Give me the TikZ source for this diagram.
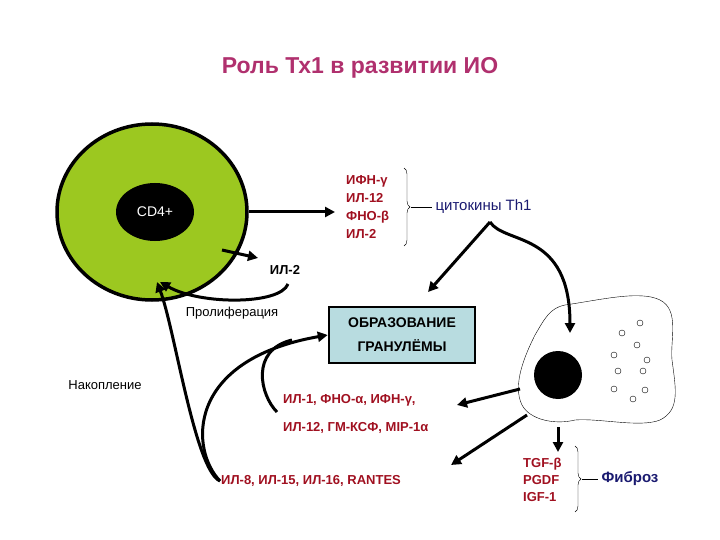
\documentclass[tikz,border=0pt]{standalone}
\usepackage{fontspec}
\setmainfont{Liberation Sans}
\usetikzlibrary{arrows.meta,decorations.pathreplacing,shapes.geometric}
\definecolor{tit}{HTML}{B0306E}
\definecolor{dred}{HTML}{A01020}
\definecolor{navy}{HTML}{1A1A70}
\definecolor{cellg}{HTML}{9CC820}
\definecolor{boxb}{HTML}{B8DCE0}
\tikzset{
  arr/.style={line width=3pt,-{Triangle[length=10pt,width=10pt]}},
  red/.style={text=dred,font=\bfseries\fontsize{13}{15}\selectfont,inner sep=1pt},
  lbl/.style={font=\bfseries\fontsize{13}{15}\selectfont,inner sep=1pt},
  brace/.style={decorate,decoration={brace,amplitude=6pt},thin},
  dot/.style={circle,draw,thin,minimum size=6pt,inner sep=0pt}
}
\begin{document}
\begin{tikzpicture}[x=1pt,y=-1pt]
\useasboundingbox (0,0) rectangle (720,540);
\node[text=tit,font=\bfseries\fontsize{23}{26}\selectfont] (title) at (360,68) {Роль Тх1 в развитии ИО};
% CD4 cell
\node[ellipse,draw,line width=3.5pt,fill=cellg,minimum width=190pt,minimum height=176pt] (cell) at (152,212) {};
\node[ellipse,fill=black,minimum width=78pt,minimum height=58pt,text=white,font=\fontsize{14}{16}\selectfont] (nuc) at (155,212) {CD4+};
% cytokine list
\node[red,align=left,anchor=west,font=\bfseries\fontsize{13}{18}\selectfont] (cyt) at (345,207) {ИФН-γ\\ИЛ-12\\ФНО-β\\ИЛ-2};
\draw[brace] (404,168) -- (404,246);
\node[text=navy,font=\fontsize{15}{17}\selectfont,anchor=west] (th1) at (432,207) {цитокины Th1};
\draw[thin] (411,207) -- (th1.west);
\coordinate (ce) at (335,212);
\draw[arr] (cell.east) -- (ce);
% IL-2
\node[lbl] (il2) at (285,270) {ИЛ-2};
\coordinate (c1) at (222,250);
\draw[arr] (c1) -- (258,258);
\draw[arr] (288,284) .. controls (280,305) and (200,305) .. (160,282);
\node[lbl,font=\fontsize{13}{15}\selectfont] (prol) at (232,313) {Пролиферация};
\node[lbl,font=\fontsize{13}{15}\selectfont] (nak) at (105,385) {Накопление};
% box
\node[draw,line width=2.5pt,fill=boxb,minimum width=146pt,minimum height=56pt,align=center,font=\bfseries\fontsize{14}{24}\selectfont] (box) at (402,335) {ОБРАЗОВАНИЕ\\ГРАНУЛЁМЫ};
% arrows from th1
\coordinate (tb) at (490,222);
\draw[arr] (tb) -- (428,292);
\draw[arr] (tb) .. controls (505,245) and (570,230) .. (570,333);
% macrophage
\draw[thin] (565,305) .. controls (600,300) and (640,290) .. (660,300)
  .. controls (680,310) and (670,340) .. (672,360)
  .. controls (676,390) and (680,410) .. (660,420)
  .. controls (640,428) and (600,418) .. (575,420)
  .. controls (555,425) and (530,420) .. (522,405)
  .. controls (512,385) and (525,355) .. (535,335)
  .. controls (545,318) and (550,308) .. (565,305);
\node[circle,fill=black,minimum size=48pt] (mn) at (558,375) {};
\foreach \p [count=\i] in {{(640,323)},{(622,333)},{(637,345)},{(614,355)},{(647,360)},{(618,371)},{(643,371)},{(614,389)},{(645,390)},{(633,399)}}
  \node[dot] (d\i) at \p {};
% outputs
\node[red,anchor=west] (o1) at (282,400) {ИЛ-1, ФНО-α, ИФН-γ,};
\node[red,anchor=west] (o2) at (282,428) {ИЛ-12, ГМ-КСФ, MIP-1α};
\node[red,anchor=west] (o3) at (220,481) {ИЛ-8, ИЛ-15, ИЛ-16, RANTES};
\coordinate (m1) at (520,389); \coordinate (m2) at (527,415); \coordinate (m3) at (558,427);
\draw[arr] (m1) -- (457,405);
\draw[arr] (m2) -- (451,465);
\draw[arr] (m3) -- (558,452);
\node[red,align=left,anchor=west,font=\bfseries\fontsize{13}{17}\selectfont] (tgf) at (522,480) {TGF-β\\PGDF\\IGF-1};
\draw[brace] (575,446) -- (575,512);
\node[text=navy,font=\bfseries\fontsize{15}{17}\selectfont,anchor=west] (fib) at (598,479) {Фиброз};
\draw[thin] (582,479) -- (fib.west);
% feedback curves
\draw[arr] (o3.west) .. controls (195,470) and (175,330) .. (157,282);
\draw[arr] (o3.west) .. controls (190,450) and (185,360) .. (box.west);
\coordinate (o1s) at (277,412);
\draw[line width=3pt] (o1s) .. controls (260,395) and (250,350) .. (292,340);
\end{tikzpicture}
\end{document}
